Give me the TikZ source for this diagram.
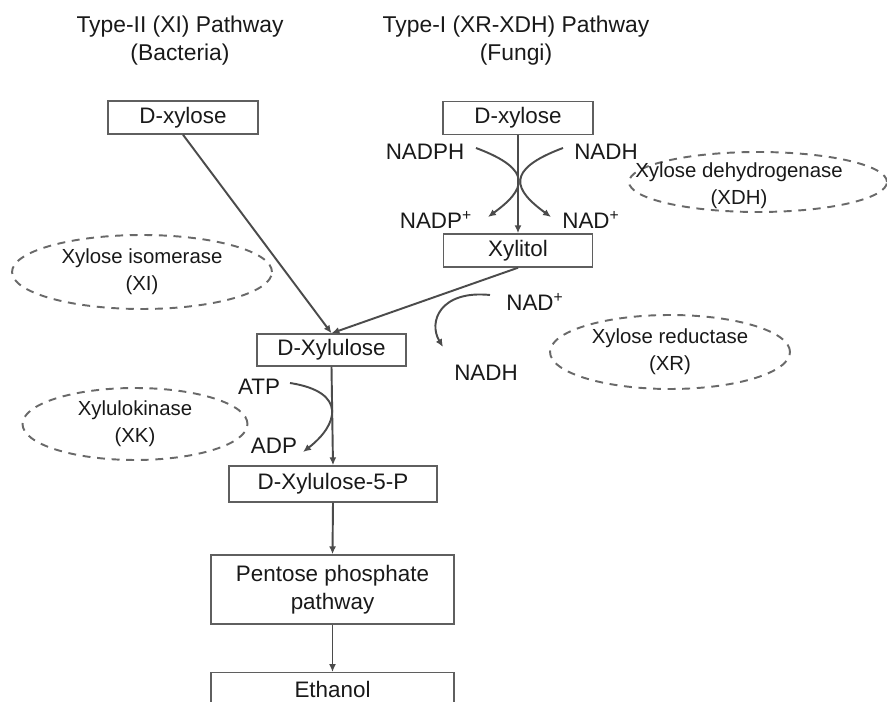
\documentclass[tikz,border=0pt]{standalone}
\usepackage{fontspec}
\setmainfont{Liberation Sans}
\usetikzlibrary{arrows.meta}
\usetikzlibrary{shapes.geometric}
\usetikzlibrary{positioning}
\definecolor{ln}{RGB}{75,75,75}
\definecolor{bx}{RGB}{95,95,95}
\definecolor{dsh}{RGB}{105,105,105}
\definecolor{txt}{RGB}{25,25,25}
\tikzset{
  box/.style={draw=bx, line width=0.85pt, rectangle, inner sep=0pt, text=txt,
    font=\fontsize{12.75}{15.9}\selectfont, align=center},
  enz/.style={draw=dsh, line width=1.1pt, dash pattern=on 4.5pt off 3.8pt,
    ellipse, inner sep=0pt, text=txt, font=\fontsize{11.6}{15.3}\selectfont, align=center},
  lbl/.style={text=txt, inner sep=0pt, font=\fontsize{12.75}{15.9}\selectfont},
  ttl/.style={text=txt, inner sep=0pt, align=center, font=\fontsize{13}{15.9}\selectfont},
  flow/.style={draw=ln, line width=1.1pt, -{Latex[length=4.5pt,width=4pt]}}}

\begin{document}
\begin{tikzpicture}[x=0.02cm, y=-0.02cm]
  \useasboundingbox (0,0) rectangle (887,702);
  \clip (0,0) rectangle (887,702);
  % titles
  \node (t2) [ttl] at (180,41) {Type-II (XI) Pathway\\(Bacteria)};
  \node (t1) [ttl] at (516,41) {Type-I (XR-XDH) Pathway\\(Fungi)};
  % metabolites
  \node (xa) [box, minimum width=3cm, minimum height=0.66cm] at (183,117.5) {D-xylose};
  \node (xb) [box, minimum width=3cm, minimum height=0.66cm] at (518,118) {D-xylose};
  \node (xl) [box, minimum width=2.98cm, minimum height=0.66cm] at (518,250.5) {Xylitol};
  \node (xu) [box, minimum width=2.98cm, minimum height=0.64cm] at (331.5,350) {D-Xylulose};
  \node (xp) [box, minimum width=4.16cm, minimum height=0.72cm] at (333,484) {D-Xylulose-5-P};
  \node (pp) [box, minimum width=4.86cm, minimum height=1.38cm] at (332.5,589.5) {Pentose phosphate\\pathway};
  \node (et) [box, minimum width=4.86cm, minimum height=0.66cm, anchor=north] at (332.5,672) {Ethanol};
  % enzymes
  \node (xi) [enz, minimum width=5.2cm, minimum height=1.48cm] at (142,272) {Xylose isomerase\\(XI)};
  \node (xr) [enz, minimum width=4.8cm, minimum height=1.48cm] at (670,352) {Xylose reductase\\(XR)};
  \node (xk) [enz, minimum width=4.5cm, minimum height=1.44cm] at (135,424) {Xylulokinase\\(XK)};
  \node (xdh) [enz, minimum width=5.16cm, minimum height=1.2cm] at (758,182) {};
  \node (xdht) [lbl, align=center, font=\fontsize{11.6}{15.3}\selectfont] at (739,186) {Xylose dehydrogenase\\(XDH)};
  % cofactors
  \node (nadph) [lbl] at (425,152) {NADPH};
  \node (nadpp) [lbl] at (436,220) {NADP\textsuperscript{+}};
  \node (nadh) [lbl] at (606,152) {NADH};
  \node (nadp) [lbl] at (591,220) {NAD\textsuperscript{+}};
  \node (nadb) [lbl] at (535,302) {NAD\textsuperscript{+}};
  \node (nadhb) [lbl] at (486,373) {NADH};
  \node (atp) [lbl] at (259,387) {ATP};
  \node (adp) [lbl] at (274,446) {ADP};
  % main flow
  \draw [flow] (xa.south) -- (xu.north);
  \draw [flow] (xb.south) -- (xl.north);
  \draw [flow] (xl.south) -- (xu.north);
  \draw [flow] (xu.south) -- (xp.north);
  \draw [flow] (xp.south) -- (pp.north);
  \draw [flow] (pp.south) -- (et.north);
  % side reactions
  \coordinate (p1) at (476,148); \coordinate (p2) at (488,217);
  \coordinate (q1) at (563,148); \coordinate (q2) at (551,217);
  \coordinate (r1) at (490,295); \coordinate (r2) at (443,347);
  \coordinate (s1) at (290,383); \coordinate (s2) at (303,452);
  \draw [flow] (p1) .. controls (535,170) and (525,190) .. (p2);
  \draw [flow] (q1) .. controls (504,170) and (514,190) .. (q2);
  \draw [flow] (r1) .. controls (440,290) and (428,322) .. (r2);
  \draw [flow] (s1) .. controls (348,392) and (338,425) .. (s2);
\end{tikzpicture}
\end{document}
